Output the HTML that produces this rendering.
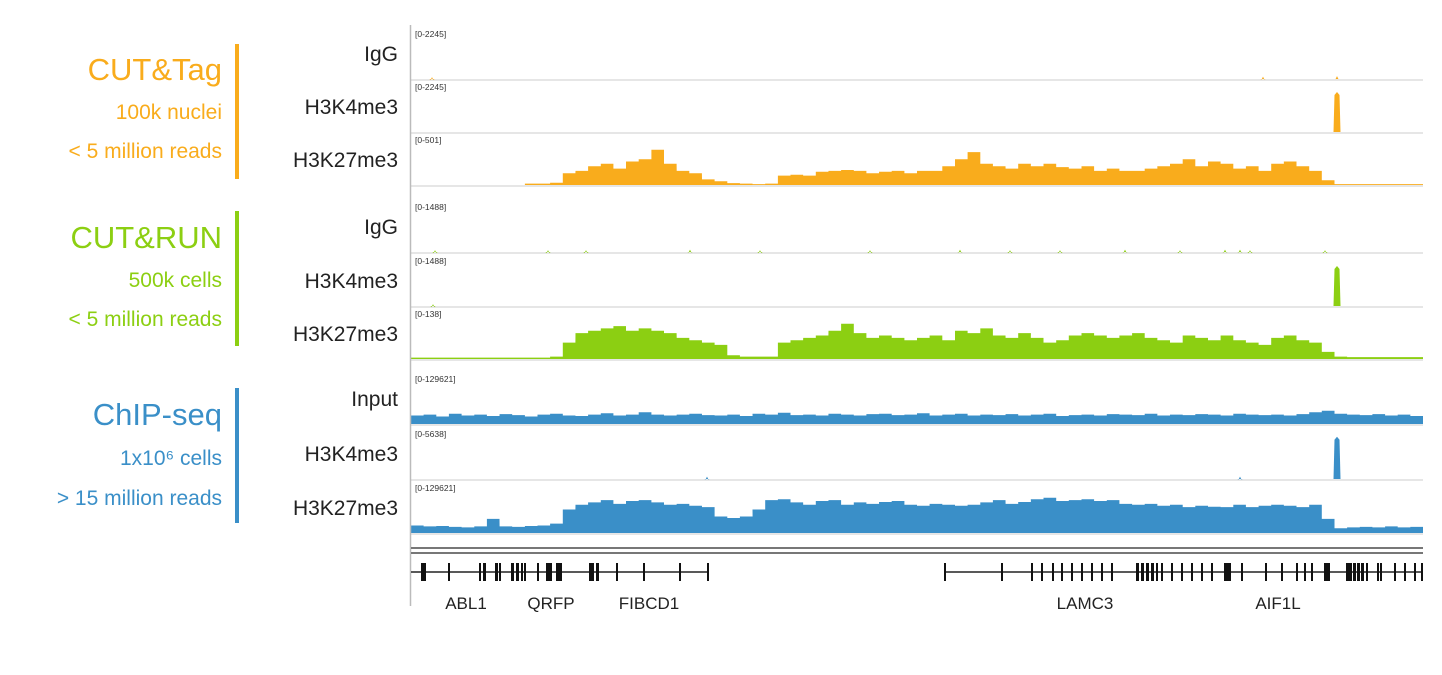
<!DOCTYPE html>
<html><head><meta charset="utf-8">
<style>
html,body{margin:0;padding:0;background:#fff;}
svg{display:block;font-family:"Liberation Sans",sans-serif;}
</style></head>
<body>
<svg id="chart" width="1442" height="675" viewBox="0 0 1442 675" xmlns="http://www.w3.org/2000/svg">
  <g text-anchor="end">
    <text x="222" y="80" font-size="31" fill="#F9AC1C">CUT&amp;Tag</text>
    <text x="222" y="119" font-size="21" fill="#F9AC1C">100k nuclei</text>
    <text x="222" y="158" font-size="21" fill="#F9AC1C">&lt; 5 million reads</text>
    <rect x="235" y="44" width="4" height="135" fill="#F9AC1C"/>
    <text x="222" y="248" font-size="31" fill="#8CCF12">CUT&amp;RUN</text>
    <text x="222" y="287" font-size="21" fill="#8CCF12">500k cells</text>
    <text x="222" y="326" font-size="21" fill="#8CCF12">&lt; 5 million reads</text>
    <rect x="235" y="211" width="4" height="135" fill="#8CCF12"/>
    <text x="222" y="425" font-size="31" fill="#3A8FC8">ChIP-seq</text>
    <text x="222" y="465" font-size="21" fill="#3A8FC8">1x10⁶ cells</text>
    <text x="222" y="505" font-size="21" fill="#3A8FC8">&gt; 15 million reads</text>
    <rect x="235" y="388" width="4" height="135" fill="#3A8FC8"/>
  </g>
  <g id="tracks"></g>
  <line x1="410.5" y1="25" x2="410.5" y2="606" stroke="#bbb" stroke-width="1.5"/>
  <g id="genes"></g>
</svg>
<script>
// ---- data ----
const BIN_COUNT = 80;
const ctK27 = [0,0,0,0,0,0,0,0,0,.03,.03,.05,.25,.3,.4,.45,.35,.5,.55,.75,.45,.3,.25,.12,.08,.04,.03,.02,.03,.2,.22,.2,.28,.3,.32,.3,.25,.28,.3,.25,.3,.3,.4,.55,.7,.45,.4,.35,.45,.4,.45,.38,.35,.4,.3,.35,.3,.3,.35,.4,.45,.55,.4,.5,.45,.35,.4,.3,.45,.5,.4,.3,.1,.02,.02,.02,.02,.02,.02,.02];
const crK27 = [.03,.03,.03,.03,.03,.03,.03,.03,.03,.03,.03,.05,.35,.55,.6,.65,.7,.6,.65,.6,.55,.45,.4,.35,.3,.08,.05,.05,.05,.35,.4,.45,.5,.6,.75,.55,.45,.5,.45,.4,.45,.5,.4,.6,.55,.65,.5,.45,.55,.45,.35,.4,.5,.55,.5,.45,.5,.55,.45,.4,.35,.5,.45,.4,.5,.4,.35,.3,.45,.5,.4,.35,.15,.05,.04,.04,.04,.04,.04,.04];
const chK27 = [.16,.14,.15,.13,.12,.14,.3,.14,.13,.15,.16,.2,.5,.6,.65,.7,.62,.68,.7,.65,.6,.62,.58,.55,.35,.32,.35,.5,.7,.72,.65,.6,.68,.7,.6,.65,.62,.66,.68,.6,.58,.62,.6,.58,.6,.65,.7,.62,.66,.72,.75,.68,.7,.72,.68,.7,.62,.6,.62,.58,.6,.55,.58,.56,.55,.6,.55,.58,.6,.58,.55,.6,.3,.1,.12,.13,.12,.14,.12,.13];
const chInput = [.18,.2,.16,.22,.18,.2,.17,.21,.19,.16,.2,.22,.18,.17,.2,.23,.18,.2,.25,.2,.18,.2,.22,.19,.18,.2,.17,.22,.2,.24,.19,.2,.18,.22,.2,.18,.21,.22,.19,.2,.23,.18,.2,.22,.18,.2,.19,.21,.18,.2,.22,.17,.19,.2,.18,.21,.2,.19,.22,.18,.2,.19,.21,.2,.18,.22,.2,.19,.2,.18,.21,.25,.28,.22,.2,.19,.21,.18,.2,.17];
// peaks: positions in genomic units (0..1012) and heights (fraction of track)
const ctIgGPos = [21,852,926];      const ctIgGH = [.04,.05,.06];
const ctK4Pos = [926];              const ctK4H = [.85];
const crIgGPos = [24,137,175,279,349,459,549,599,649,714,769,814,829,839,914]; const crIgGH = [.04,.04,.04,.05,.04,.04,.05,.04,.04,.05,.04,.05,.05,.04,.04];
const crK4Pos = [22,926];           const crK4H = [.04,.85];
const chK4Pos = [296,829,926];      const chK4H = [.05,.05,.9];
const scaleLabels = ["[0-2245]","[0-2245]","[0-501]","[0-1488]","[0-1488]","[0-138]","[0-129621]","[0-5638]","[0-129621]"];
const trackNames = ["IgG","H3K4me3","H3K27me3","IgG","H3K4me3","H3K27me3","Input","H3K4me3","H3K27me3"];
const geneNames = ["ABL1","QRFP","FIBCD1","LAMC3","AIF1L"];
const geneLabelPos = [55,140,238,674,867];
const introns = [[0,297],[533,1012]];
const exonPos = [10,12,37,68,72,84,88,100,105,110,113,126,135,145,178,180,185,205,232,268,296,533,590,620,630,641,650,660,670,680,690,700,725,730,735,740,745,750,760,770,780,790,800,813,815,817,830,854,870,885,893,900,913,915,935,938,942,946,950,955,966,969,983,993,1003,1010];
const exonW = [3,3,2,2,3,3,2,3,3,2,2,2,6,6,3,3,3,2,2,2,2,2,2,2,2,2,2,2,2,2,2,2,3,3,3,3,2,2,2,2,2,2,2,6,3,3,2,2,2,2,2,2,6,4,3,3,3,3,3,2,2,2,2,2,2,2];

// ---- layout ----
const X0 = 411, X1 = 1423, GEN = 1012;
const xs = g => X0 + (g/GEN)*(X1-X0);
const binW = (X1-X0)/BIN_COUNT;
const tracksTop = [28,81,134,201,255,308,373,428,482];
const TH = 51;
const colors = ["#F9AC1C","#F9AC1C","#F9AC1C","#8CCF12","#8CCF12","#8CCF12","#3A8FC8","#3A8FC8","#3A8FC8"];
const NS = "http://www.w3.org/2000/svg";
const tg = document.getElementById('tracks');
function mk(tag, attrs, parent){const e=document.createElementNS(NS,tag);for(const k in attrs)e.setAttribute(k,attrs[k]);parent.appendChild(e);return e;}
const ys = (i,v) => tracksTop[i]+TH - v*(TH-4);

for(let i=0;i<9;i++){
  const base = tracksTop[i]+TH;
  const sep = mk('line',{x1:X0,x2:X1,y1:base+1,y2:base+1,stroke:'#ddd','stroke-width':1.5},tg);
  
  
  const lab = mk('text',{x:X0+4,y:tracksTop[i]+9,'font-size':8.5,fill:'#333'},tg);
  lab.textContent = scaleLabels[i];
  
  
  const nm = mk('text',{x:398,y:tracksTop[i]+33,'font-size':21,fill:'#222','text-anchor':'end'},tg);
  nm.textContent = trackNames[i];
  
  
}
function area(i, vals){
  const base = tracksTop[i]+TH;
  let d = `M${X0},${base}`;
  vals.forEach((v,k)=>{const xa=X0+k*binW, xb=xa+binW; d+=`L${xa.toFixed(1)},${ys(i,v).toFixed(1)}L${xb.toFixed(1)},${ys(i,v).toFixed(1)}`;});
  d += `L${X1},${base}Z`;
  const p = mk('path',{d:d,fill:colors[i]},tg);
  
  
}
function peaks(i,pos,h){
  pos.forEach((g,k)=>{
    const w = h[k]>0.2?5:3;
    const y = ys(i,h[k]);
    const r = mk('path',{d:`M${xs(g)-w/2-1},${tracksTop[i]+TH}L${xs(g)-w/2},${y+3}L${xs(g)},${y}L${xs(g)+w/2},${y+3}L${xs(g)+w/2+1},${tracksTop[i]+TH}Z`,fill:colors[i]},tg);
    
    
  });
}
peaks(0,ctIgGPos,ctIgGH); peaks(1,ctK4Pos,ctK4H); area(2,ctK27);
peaks(3,crIgGPos,crIgGH); peaks(4,crK4Pos,crK4H); area(5,crK27);
area(6,chInput); peaks(7,chK4Pos,chK4H); area(8,chK27);
// baseline for chip tracks
[6,8].forEach(i=>{const l=mk('line',{x1:X0,x2:X1,y1:tracksTop[i]+TH-1,y2:tracksTop[i]+TH-1,stroke:colors[i],'stroke-width':2},tg);

});

// ---- genes ----
const gg = document.getElementById('genes');
const dl1 = mk('line',{x1:X0,x2:X1,y1:548,y2:548,stroke:'#777','stroke-width':2},gg);


const dl2 = mk('line',{x1:X0,x2:X1,y1:553,y2:553,stroke:'#777','stroke-width':2},gg);


introns.forEach(s=>{const l=mk('line',{x1:xs(s[0]),x2:xs(s[1]),y1:572,y2:572,stroke:'#222','stroke-width':1.5},gg);

});
exonPos.forEach((g,k)=>{const r=mk('rect',{x:xs(g),y:563,width:exonW[k],height:18,fill:'#111'},gg);

});
geneNames.forEach((n,k)=>{const t=mk('text',{x:xs(geneLabelPos[k]),y:609,'font-size':17,fill:'#222','text-anchor':'middle'},gg);
t.textContent=n;

});
</script>
</body></html>
